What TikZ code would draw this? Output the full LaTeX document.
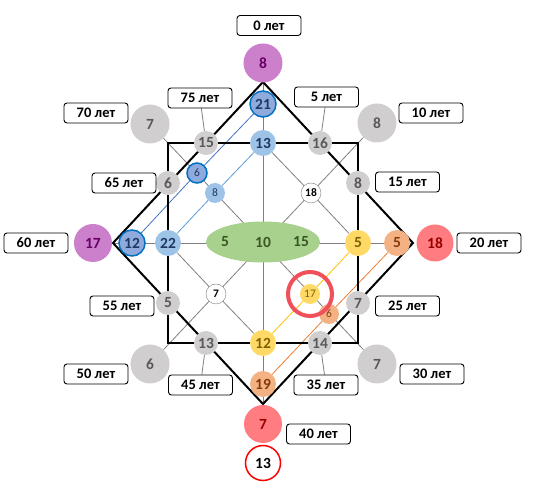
\documentclass[tikz,border=0pt]{standalone}
\usepackage{fontspec}
\setmainfont{Carlito}
\usetikzlibrary{shapes.geometric,backgrounds}
\definecolor{lila}{RGB}{204,128,204}
\definecolor{lilatxt}{RGB}{102,0,102}
\definecolor{grayfill}{RGB}{208,206,206}
\definecolor{graytxt}{RGB}{89,89,89}
\definecolor{bmid}{RGB}{143,170,220}
\definecolor{bring}{RGB}{0,112,192}
\definecolor{btxt}{RGB}{31,56,100}
\definecolor{blight}{RGB}{157,195,230}
\definecolor{greenfill}{RGB}{169,209,142}
\definecolor{greentxt}{RGB}{56,87,35}
\definecolor{yel}{RGB}{255,217,102}
\definecolor{yeltxt}{RGB}{127,96,0}
\definecolor{salm}{RGB}{244,177,131}
\definecolor{salmtxt}{RGB}{132,60,12}
\definecolor{redfill}{RGB}{255,124,128}
\definecolor{redtxt}{RGB}{153,0,0}
\definecolor{hlring}{RGB}{240,80,90}
\begin{document}
\begin{tikzpicture}[x=1pt,y=1pt,
  every node/.style={font=\bfseries\fontsize{15.5}{17}\selectfont},
  lbl/.style={draw,line width=0.9pt,rounded corners=3pt,fill=white,minimum width=64pt,minimum height=20pt,inner sep=0pt,font=\bfseries\fontsize{14.5}{16}\selectfont},
  num/.style={circle,inner sep=0pt,minimum size=26pt},
  smallc/.style={circle,inner sep=0pt,minimum size=20pt,font=\fontsize{11.5}{12}\selectfont},
  gry/.style={num,fill=grayfill,text=graytxt,minimum size=24pt},
  thinl/.style={gray,line width=0.8pt},
  edge/.style={black,line width=2pt}]
\useasboundingbox (-263,-254) rectangle (294,243);
% corners of the diamond and the square
\coordinate (T) at (0,161);
\coordinate (Bt) at (0,-161);
\coordinate (L) at (-150,0);
\coordinate (R) at (150,0);
\coordinate (sq1) at (-95,100);
\coordinate (sq2) at (95,-100);
% centre
\node[ellipse,fill=greenfill,minimum width=114pt,minimum height=41pt] (ell) at (0,1) {};
\node[text=greentxt] (e5) at (-38,1) {5};
\node[text=greentxt] (e10) at (0,1) {10};
\node[text=greentxt] (e15) at (38,1) {15};
% purple and red
\node[num,fill=lila,text=lilatxt,minimum size=39pt] (p8) at (0,180) {8};
\node[num,fill=lila,text=lilatxt,minimum size=38pt] (p17) at (-170,0) {17};
\node[num,fill=redfill,text=redtxt,minimum size=37pt] (r18) at (172,0) {18};
\node[num,fill=redfill,text=redtxt,minimum size=38pt] (r7) at (0,-181) {7};
\node[num,draw=red,line width=1.5pt,fill=white,minimum size=35pt] (r13) at (0,-220) {13};
% blue
\node[num,fill=bmid,draw=bring,line width=1.5pt,text=btxt] (b21) at (0,139) {21};
\node[num,fill=bmid,draw=bring,line width=1.5pt,text=btxt] (b12) at (-131,0) {12};
\node[smallc,fill=bmid,draw=bring,line width=1.5pt,text=btxt] (b6) at (-66,70) {6};
\node[num,fill=blight,text=btxt] (lb13) at (0,100) {13};
\node[num,fill=blight,text=btxt] (lb22) at (-95,0) {22};
\node[smallc,fill=blight,text=btxt] (lb8) at (-48,50) {8};
% yellow and salmon
\node[num,fill=yel,text=yeltxt] (y5) at (95,0) {5};
\node[num,fill=yel,text=yeltxt] (y12) at (0,-100) {12};
\node[smallc,fill=yel,text=yeltxt] (y17) at (47,-51) {17};
\node[num,fill=salm,text=salmtxt] (s5) at (134,0) {5};
\node[num,fill=salm,text=salmtxt] (s19) at (0,-141) {19};
\node[smallc,fill=salm,text=salmtxt] (s6) at (66,-71) {6};
\node[circle,draw=hlring,line width=4pt,minimum size=44pt] (hl) at (y17) {};
% white
\node[smallc,draw=gray,fill=white,font=\bfseries\fontsize{11.5}{12}\selectfont] (w18) at (48,50) {18};
\node[smallc,draw=gray,fill=white,font=\bfseries\fontsize{11.5}{12}\selectfont] (w7) at (-47,-51) {7};
% gray
\foreach \nm/\x/\y/\v in {g15/-57/100/15,g16/57/100/16,g8/95/60/8,g7/95/-60/7,
    g14/57/-100/14,g13/-57/-100/13,g5/-95/-60/5,g6/-95/60/6}
  \node[gry] (\nm) at (\x,\y) {\v};
\foreach \nm/\x/\y/\v in {G7a/-113/119/7,G8/114/120/8,G7b/114/-121/7,G6/-113/-121/6}
  \node[gry,minimum size=39pt] (\nm) at (\x,\y) {\v};
% ages
\foreach \nm/\x/\y/\yr in {l0/6/217.5/0,l5/63.5/146/5,l10/168/130/10,l15/144.5/61/15,
    l20/226/0/20,l25/144.5/-63/25,l30/169/-131/30,l35/63/-142/35,l40/55.5/-191/40,
    l45/-62.5/-142/45,l50/-167/-131/50,l55/-141/-63/55,l60/-227/0/60,
    l65/-139/60/65,l70/-167/130/70,l75/-63/145/75}
  \node[lbl] (\nm) at (\x,\y) {\yr\ лет};
\begin{scope}[on background layer]
\draw[thinl] (T) -- (Bt);
\draw[thinl] (L) -- (R);
\draw[thinl] (G7a) -- (G7b);
\draw[thinl] (G8) -- (G6);
\draw[thinl] (lb13) -- (w18) -- (y5);
\draw[thinl] (lb22) -- (w7) -- (y12);
\draw[thinl] (l75) -- (g15);
\draw[thinl] (l5) -- (g16);
\draw[thinl] (l45) -- (g13);
\draw[thinl] (l35) -- (g14);
\draw[line width=0.8pt,color={rgb,255:red,68;green,114;blue,196}] (b12) -- (b6) -- (b21);
\draw[line width=0.8pt,color={rgb,255:red,91;green,155;blue,213}] (lb22) -- (lb8) -- (lb13);
\draw[line width=0.8pt,color={rgb,255:red,255;green,192;blue,0}] (y5) -- (y17) -- (y12);
\draw[line width=0.8pt,color={rgb,255:red,237;green,125;blue,49}] (s5) -- (s6) -- (s19);
\draw[edge] (T) -- (R) -- (Bt) -- (L) -- cycle;
\draw[edge] (sq1) rectangle (sq2);
\end{scope}
\end{tikzpicture}
\end{document}
